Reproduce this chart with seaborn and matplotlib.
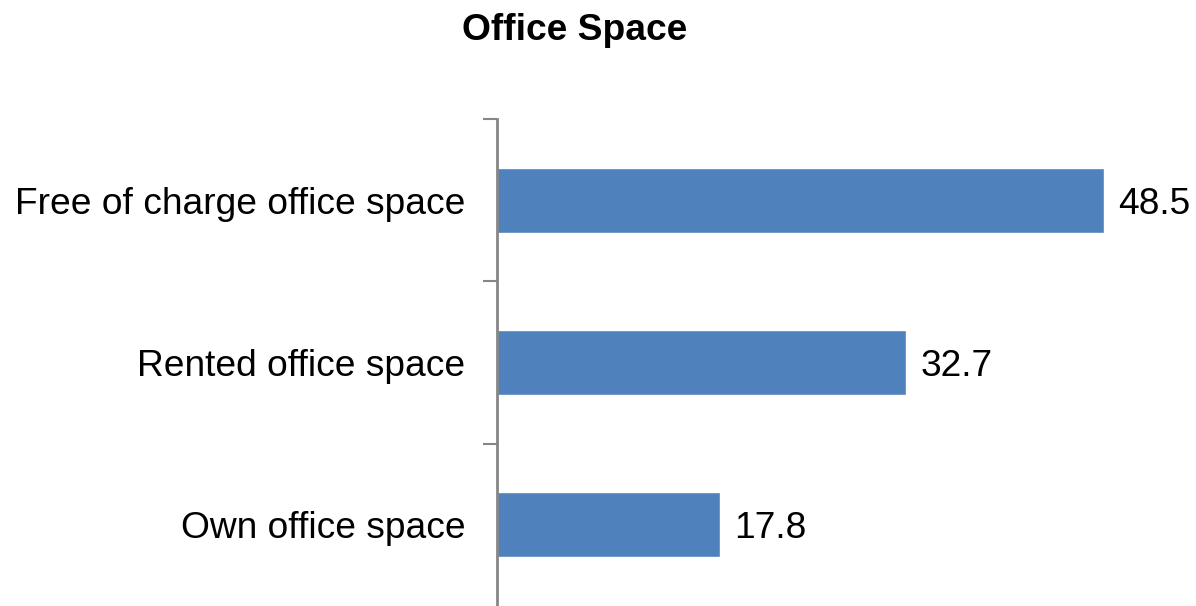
import matplotlib
matplotlib.use("Agg")
import matplotlib.pyplot as plt
import seaborn as sns
import pandas as pd

categories = ["Free of charge office space", "Rented office space", "Own office space"]
values = [48.5, 32.7, 17.8]
title = "Office Space"

sns.set_theme(style="white")
plt.rcParams["font.family"] = ["Liberation Sans", "DejaVu Sans"]
plt.rcParams["text.color"] = "black"

df = pd.DataFrame({"category": categories, "value": values})

W, H = 1196, 606
fig = plt.figure(figsize=(W / 100, H / 100), dpi=100)
ax = fig.add_axes([497 / W, 0, (W - 497) / W, 487 / H])

sns.barplot(data=df, x="value", y="category", orient="h", color="#4F81BD",
            saturation=1, width=0.4, ax=ax)

ax.set_xlim(0, (W - 497) / 12.52)
ax.set_ylim(2.5, -0.5)
ax.set_xlabel("")
ax.set_ylabel("")
ax.set_xticks([])

for spine in ["top", "right", "bottom"]:
    ax.spines[spine].set_visible(False)
ax.spines["left"].set_color("#868686")
ax.spines["left"].set_linewidth(2)

# Category labels at bar centres, boundary ticks between categories
ax.set_yticks(range(len(categories)))
ax.set_yticklabels(categories, fontsize=26.7, color="black")
ax.tick_params(axis="y", which="major", length=0, pad=22.6)
ax.set_yticks([-0.5, 0.5, 1.5], minor=True)
ax.tick_params(axis="y", which="minor", length=10, width=1.5, color="#868686", left=True)

value_texts = ax.bar_label(ax.containers[0], labels=[f"{v:.1f}" for v in values],
                           padding=10, fontsize=26.7, color="black")
for t in value_texts:
    t.set_va("center_baseline")

fig.text(575 / W, 1 - 31 / H, title, ha="center", va="center",
         fontsize=26.7, fontweight="bold", color="black")

fig.savefig("out.png", dpi=100)
